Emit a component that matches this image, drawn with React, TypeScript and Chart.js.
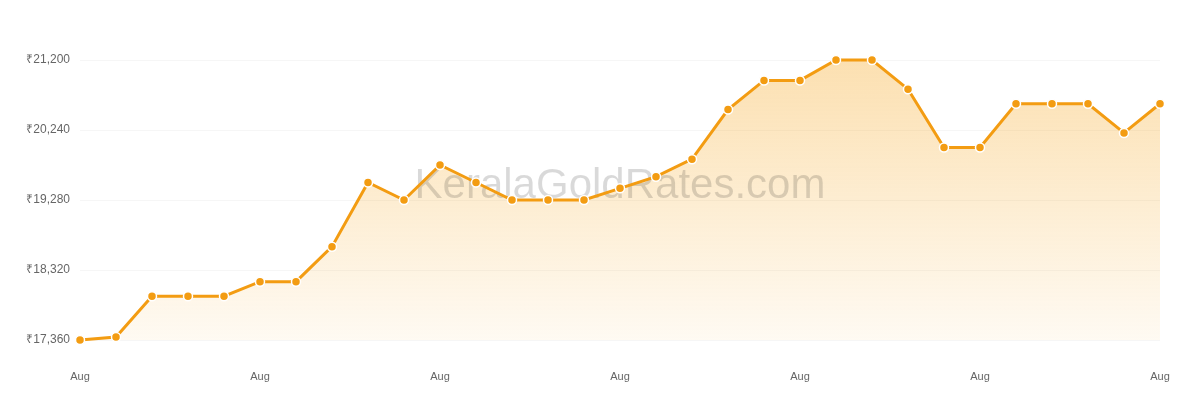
import { useEffect, useRef } from 'react';
import { Chart, registerables, Plugin } from 'chart.js';

Chart.register(...registerables);

// Kerala pavan rate, August (one point per day)
const days = Array.from({ length: 31 }, (_, i) => `Aug ${i + 1}`);
const rates = [
  17360, 17400, 17960, 17960, 17960, 18160, 18160, 18640, 19520, 19280,
  19760, 19520, 19280, 19280, 19280, 19440, 19600, 19840, 20520, 20920,
  20920, 21200, 21200, 20800, 20000, 20000, 20600, 20600, 20600, 20200,
  20600,
];
const yMin = 17360;
const yMax = 21200;
const yStep = 960;
const watermarkText = 'KeralaGoldRates.com';

const watermark: Plugin<'line'> = {
  id: 'watermark',
  beforeDatasetDraw(chart) {
    const { ctx, chartArea } = chart;
    ctx.save();
    ctx.font = '42px "Liberation Sans", Arial, sans-serif';
    ctx.fillStyle = 'rgba(0, 0, 0, 0.15)';
    ctx.textAlign = 'center';
    ctx.textBaseline = 'middle';
    ctx.fillText(watermarkText, (chartArea.left + chartArea.right) / 2, 186);
    ctx.restore();
  },
};

export default function App() {
  const canvasRef = useRef<HTMLCanvasElement>(null);

  useEffect(() => {
    if (!canvasRef.current) return;
    const ctx = canvasRef.current.getContext('2d');
    if (!ctx) return;

    Chart.defaults.font.family = '"Liberation Sans", Arial, sans-serif';
    Chart.defaults.color = '#666';

    const chart = new Chart(ctx, {
      type: 'line',
      data: {
        labels: days,
        datasets: [
          {
            label: 'Rate',
            data: rates,
            borderColor: '#f39c12',
            borderWidth: 3,
            pointBackgroundColor: '#f39c12',
            pointBorderColor: '#fff',
            pointBorderWidth: 1.5,
            pointRadius: 4.5,
            tension: 0,
            clip: false,
            fill: 'origin',
            backgroundColor: (c) => {
              const area = c.chart.chartArea;
              if (!area) return 'rgba(245,158,11,0.2)';
              const g = c.chart.ctx.createLinearGradient(0, area.top, 0, area.bottom);
              g.addColorStop(0, 'rgba(245, 158, 11, 0.32)');
              g.addColorStop(1, 'rgba(245, 158, 11, 0.05)');
              return g;
            },
          },
        ],
      },
      options: {
        responsive: false,
        animation: false,
        layout: { padding: { top: 60, right: 40, bottom: 0, left: 0 } },
        plugins: {
          legend: { display: false },
          tooltip: { enabled: false },
        },
        scales: {
          x: {
            grid: { display: false, drawTicks: false },
            border: { display: false },
            afterFit: (scale) => {
              scale.height = 60;
            },
            ticks: {
              autoSkip: false,
              maxRotation: 0,
              padding: 30,
              font: { size: 11 },
              callback: (_v, i) => (i % 5 === 0 ? 'Aug' : null),
            },
          },
          y: {
            min: yMin,
            max: yMax,
            border: { display: false },
            grid: { color: 'rgba(0, 0, 0, 0.035)', drawTicks: false },
            afterFit: (scale) => {
              scale.width = 80;
            },
            ticks: {
              stepSize: yStep,
              padding: 10,
              font: { size: 12 },
              callback: (v) => '₹' + Number(v).toLocaleString('en-US'),
            },
          },
        },
      },
      plugins: [watermark],
    });

    return () => chart.destroy();
  }, []);

  return (
    <div style={{ position: 'fixed', left: 0, top: 0, width: 1200, height: 400, background: '#fff' }}>
      <canvas ref={canvasRef} width={1200} height={400} style={{ display: 'block' }} />
    </div>
  );
}
